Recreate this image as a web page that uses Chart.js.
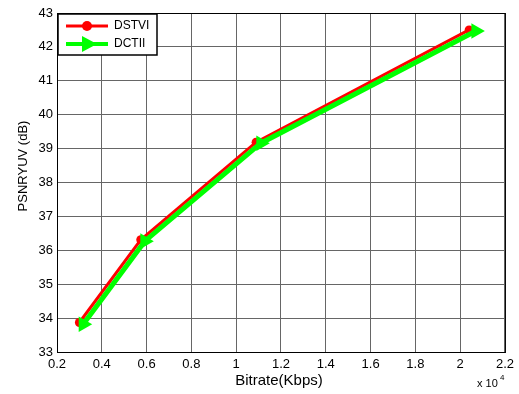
<!DOCTYPE html>
<html lang="en">
<head>
    <meta charset="UTF-8">
    <title>PSNR vs Bitrate</title>
    <script src="https://cdn.jsdelivr.net/npm/chart.js"></script>
    <style>
        html, body { margin: 0; padding: 0; background: #fff; }
        #wrap { width: 519px; height: 394px; }
    </style>
</head>
<body>
    <div id="wrap"><canvas id="grafico" width="519" height="394"></canvas></div>

    <script>
        // datos (bitrate en Kbps, PSNR en dB)
        const bitrateDSTVI = [3000, 5740, 10890, 20400];
        const psnrDSTVI = [33.87, 36.31, 39.19, 42.50];
        const bitrateDCTII = [3170, 5920, 11100, 20700];
        const psnrDCTII = [33.82, 36.27, 39.16, 42.47];
        const xTicks = [2000, 4000, 6000, 8000, 10000, 12000, 14000, 16000, 18000, 20000, 22000];
        const yTicks = [33, 34, 35, 36, 37, 38, 39, 40, 41, 42, 43];

        const FONT = 'Liberation Sans, Arial, sans-serif';

        const marcoPlugin = {
            id: 'marco',
            afterDraw(chart) {
                const { ctx, chartArea: a } = chart;
                ctx.save();
                ctx.strokeStyle = '#000';
                ctx.lineWidth = 1;
                ctx.strokeRect(a.left + 0.5, a.top + 0.5, a.right - a.left, a.bottom - a.top);

                // leyenda
                const lx = a.left + 1, ly = a.top + 1, lw = 99, lh = 41;
                ctx.fillStyle = '#fff';
                ctx.fillRect(lx, ly, lw, lh);
                ctx.strokeStyle = '#000';
                ctx.lineWidth = 1.5;
                ctx.strokeRect(lx, ly, lw, lh);
                ctx.font = '12px ' + FONT;
                ctx.textBaseline = 'middle';
                const filas = [ly + 12, ly + 30];
                chart.data.datasets.forEach((ds, i) => {
                    const y = filas[i];
                    ctx.strokeStyle = ds.borderColor;
                    ctx.lineWidth = i === 0 ? 3 : 4;
                    ctx.beginPath();
                    ctx.moveTo(lx + 8, y);
                    ctx.lineTo(lx + 50, y);
                    ctx.stroke();
                    ctx.fillStyle = ds.borderColor;
                    ctx.beginPath();
                    if (i === 0) {
                        ctx.arc(lx + 29, y, 5, 0, Math.PI * 2);
                    } else {
                        ctx.moveTo(lx + 24, y - 8);
                        ctx.lineTo(lx + 39, y);
                        ctx.lineTo(lx + 24, y + 8);
                        ctx.closePath();
                    }
                    ctx.fill();
                    ctx.fillStyle = '#000';
                    ctx.textAlign = 'left';
                    ctx.fillText(ds.label, lx + 56, y);
                });

                // titulos de ejes
                ctx.fillStyle = '#000';
                ctx.textAlign = 'center';
                ctx.textBaseline = 'middle';
                ctx.font = '15px ' + FONT;
                ctx.fillText('Bitrate(Kbps)', (a.left + a.right) / 2 - 2, 381);
                ctx.save();
                ctx.translate(23, 166);
                ctx.rotate(-Math.PI / 2);
                ctx.font = '13px ' + FONT;
                ctx.fillText('PSNRYUV (dB)', 0, 0);
                ctx.restore();

                // factor de escala del eje x
                ctx.textAlign = 'left';
                ctx.textBaseline = 'alphabetic';
                ctx.font = '11px ' + FONT;
                ctx.fillText('x 10', 477, 387);
                ctx.font = '8px ' + FONT;
                ctx.fillText('4', 500, 380);
                ctx.restore();
            }
        };

        new Chart(document.getElementById('grafico'), {
            type: 'line',
            data: {
                datasets: [{
                    label: 'DSTVI',
                    data: bitrateDSTVI.map((x, i) => ({ x: x, y: psnrDSTVI[i] })),
                    borderColor: '#ff0000',
                    backgroundColor: '#ff0000',
                    borderWidth: 3,
                    pointStyle: 'circle',
                    pointRadius: 4.5,
                    pointBorderWidth: 0,
                    order: 2
                }, {
                    label: 'DCTII',
                    data: bitrateDCTII.map((x, i) => ({ x: x, y: psnrDCTII[i] })),
                    borderColor: '#00ff00',
                    backgroundColor: '#00ff00',
                    borderWidth: 5,
                    pointStyle: 'triangle',
                    pointRotation: 90,
                    pointRadius: 9,
                    pointBorderWidth: 0,
                    order: 1
                }]
            },
            options: {
                responsive: false,
                animation: false,
                layout: { padding: { top: 13, right: 10, left: 0, bottom: 0 } },
                plugins: {
                    legend: { display: false },
                    tooltip: { enabled: false }
                },
                scales: {
                    x: {
                        type: 'linear',
                        min: 2000,
                        max: 22000,
                        afterBuildTicks: s => { s.ticks = xTicks.map(v => ({ value: v })); },
                        afterFit: s => { s.height = 42; },
                        ticks: {
                            color: '#000',
                            font: { family: FONT, size: 13 },
                            padding: 5,
                            callback: v => String(Math.round(v / 1000) / 10)
                        },
                        grid: { color: '#666', borderDash: [1, 1], drawTicks: false },
                        border: { display: false }
                    },
                    y: {
                        min: 33,
                        max: 43,
                        afterBuildTicks: s => { s.ticks = yTicks.map(v => ({ value: v })); },
                        afterFit: s => { s.width = 57; },
                        ticks: {
                            color: '#000',
                            font: { family: FONT, size: 13 },
                            padding: 4
                        },
                        grid: { color: '#666', borderDash: [1, 1], drawTicks: false },
                        border: { display: false }
                    }
                }
            },
            plugins: [marcoPlugin]
        });
    </script>
</body>
</html>
